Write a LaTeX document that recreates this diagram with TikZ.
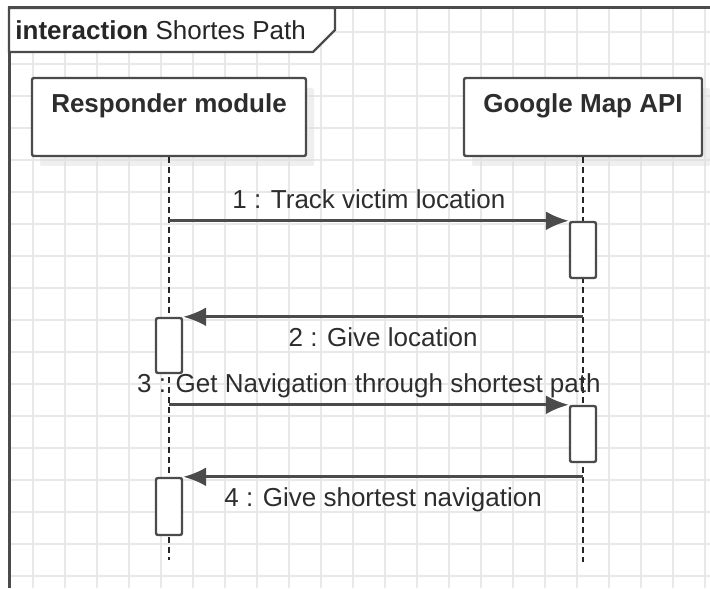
\documentclass[tikz,border=0pt]{standalone}
\usepackage{fontspec}
\setmainfont{Liberation Sans}
\usepackage{tikz}
\usetikzlibrary{
  arrows.meta,
  positioning,
  shadows,
  calc
}
\usepackage{xcolor}
\definecolor{ink}{RGB}{75,75,75}
\definecolor{txt}{RGB}{45,45,45}
\definecolor{gridc}{RGB}{232,232,232}

\begin{document}
\begin{tikzpicture}[
  x=0.5pt, y=-0.5pt,
  head/.style={draw=ink, line width=1.2pt, fill=white, rounded corners=1pt,
               minimum height=39pt, inner sep=0pt,
               text height=9.5pt, text depth=14pt,
               font=\fontsize{13}{15}\selectfont\bfseries, text=txt,
               drop shadow={shadow xshift=4pt, shadow yshift=-5pt,
                            fill=gray!25, opacity=.5}},
  act/.style={draw=ink, line width=1.2pt, fill=white, rounded corners=1pt,
              minimum width=13pt, inner sep=0pt},
  lifeline/.style={draw=black!85, line width=1pt, dash pattern=on 3pt off 2pt},
  msg/.style={draw=ink, line width=1.5pt, -{Latex[length=11.5pt,width=9.5pt]}},
  msglabel/.style={font=\fontsize{13}{15}\selectfont, text=txt, inner sep=0pt,
                   text height=9.5pt, text depth=0pt},
  gridline/.style={draw=gridc, line width=0.6pt}
]
\useasboundingbox (0,0) rectangle (710,588);

% background grid
\foreach \gx in {33,65,...,705} \draw[gridline] (\gx,8) -- (\gx,588);
\foreach \gy in {32,64,...,576} \draw[gridline] (9,\gy) -- (710,\gy);

% frame and its name tag
\draw[ink, line width=1.5pt] (9,588) -- (9,8) -- (710,8);
\draw[ink, line width=1.2pt, fill=white]
  (9,8) -- (335,8) -- (335,30) -- (313,52) -- (9,52) -- cycle;
\node[msglabel, anchor=west, text=black!85] (title) at (15,30)
  {\textbf{interaction} Shortes Path};

% lifeline heads
\node[head, minimum width=137pt] (resp) at (169,117) {Responder module};
\node[head, minimum width=119pt] (gmap) at (583,117) {Google Map API};

\coordinate (respEnd) at (169,560);
\coordinate (gmapEnd) at (583,562);
\draw[lifeline] (resp.south) -- (respEnd);
\draw[lifeline] (gmap.south) -- (gmapEnd);

% activations
\node[act, minimum height=28pt]   (act1) at (583,250)   {};
\node[act, minimum height=27.5pt] (act2) at (169,345.5) {};
\node[act, minimum height=28pt]   (act3) at (583,434)   {};
\node[act, minimum height=28.5pt] (act4) at (169,506.5) {};

% messages
\draw[msg] (resp |- act1.north) -- (act1.north west)
  node[msglabel, midway, above=5.5pt] (lab1) {1 : Track victim location};
\draw[msg] (gmap |- act2.north) -- (act2.north east)
  node[msglabel, midway, below=4.75pt] (lab2) {2 : Give location};
\draw[msg] (resp |- act3.north) -- (act3.north west)
  node[msglabel, midway, above=5.5pt] (lab3) {3 : Get Navigation through shortest path};
\draw[msg] (gmap |- act4.north) -- (act4.north east)
  node[msglabel, midway, below=4.75pt] (lab4) {4 : Give shortest navigation};

\end{tikzpicture}
\end{document}
